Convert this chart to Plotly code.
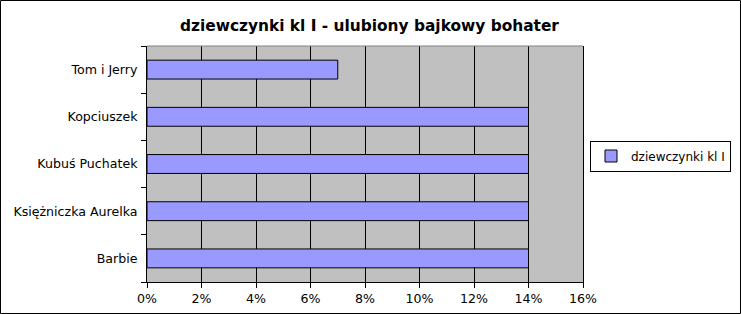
import plotly.graph_objects as go

categories = ["Barbie", "Księżniczka Aurelka", "Kubuś Puchatek", "Kopciuszek", "Tom i Jerry"]
values = [0.14, 0.14, 0.14, 0.14, 0.07]
series_name = "dziewczynki kl I"
title_text = "dziewczynki kl I - ulubiony bajkowy bohater"

W, H = 741, 314
L, R, T, B = 147, 583, 46, 282
pw, ph = R - L, B - T

fig = go.Figure()
fig.add_trace(go.Bar(
    y=categories, x=values, orientation="h", name=series_name,
    width=0.4,
    marker=dict(color="#9999ff", line=dict(color="black", width=1)),
    showlegend=True,
))

font = "DejaVu Sans, Verdana, sans-serif"
fig.update_layout(
    width=W, height=H,
    margin=dict(l=L, r=W - R, t=T, b=H - B, pad=0, autoexpand=False),
    paper_bgcolor="white", plot_bgcolor="#c0c0c0",
    font=dict(family=font, size=12.6, color="black"),
    title=dict(text="<b>" + title_text + "</b>", x=(369.5 - L) / pw, xref="paper", xanchor="center",
               y=1 - 26 / H, yanchor="middle", font=dict(size=15.4, family=font, color="black")),
    showlegend=True,
    legend=dict(x=(590 - L) / pw, xanchor="left", y=(B - 156) / ph, yanchor="middle",
                bordercolor="black", borderwidth=1, bgcolor="white",
                font=dict(size=12, family=font), itemwidth=30),
    xaxis=dict(range=[0, 0.16], dtick=0.02, tick0=0, tickformat=".0%",
               showgrid=True, gridcolor="black", gridwidth=1,
               showline=True, linecolor="black", linewidth=1,
               ticks="outside", ticklen=5, tickcolor="black", zeroline=False,
               fixedrange=True),
    yaxis=dict(categoryorder="array", categoryarray=categories,
               tickson="boundaries", ticks="outside", ticklen=5, tickcolor="black",
               ticklabelstandoff=6,
               showgrid=False, showline=True, linecolor="black", linewidth=1,
               mirror=True, zeroline=False, fixedrange=True),
    shapes=[
        dict(type="line", xref="paper", yref="paper", x0=0, x1=1, y0=1, y1=1,
             line=dict(color="#808080", width=1)),
        dict(type="rect", xref="paper", yref="paper",
             x0=(0.5 - L) / pw, x1=(W - 0.5 - L) / pw,
             y0=(B - (H - 0.5)) / ph, y1=(B - 0.5) / ph,
             line=dict(color="black", width=1), fillcolor="rgba(0,0,0,0)", layer="above"),
    ],
)

fig.write_html("out.html")
